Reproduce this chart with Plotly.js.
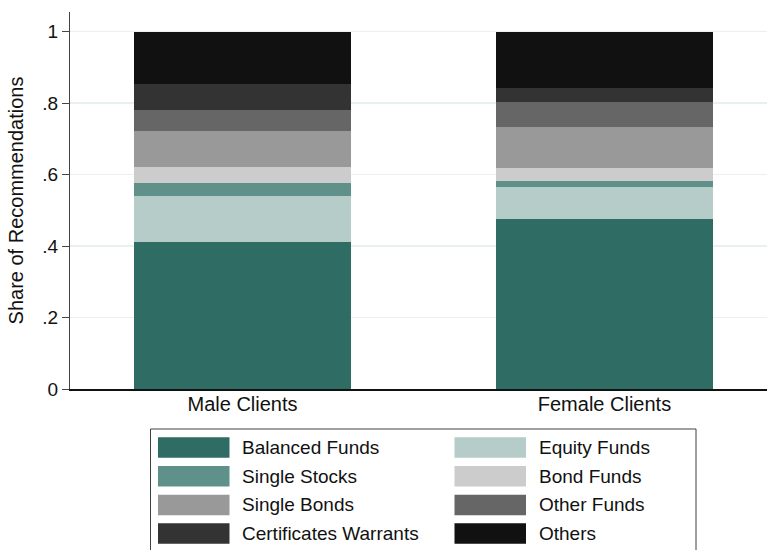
<!DOCTYPE html>
<html>
<head>
<meta charset="utf-8">
<script src="https://cdn.plot.ly/plotly-3.0.1.min.js"></script>
<style>html,body{margin:0;padding:0;background:#fff;}#chart{width:767px;height:550px;}</style>
</head>
<body>
<div id="chart"></div>
<script>
// ---- data ----
const categories = ['Male Clients', 'Female Clients'];
const seriesNames = ['Balanced Funds', 'Equity Funds', 'Single Stocks', 'Bond Funds',
                     'Single Bonds', 'Other Funds', 'Certificates Warrants', 'Others'];
const balancedFunds = [0.411, 0.477];
const equityFunds = [0.129, 0.087];
const singleStocks = [0.036, 0.017];
const bondFunds = [0.044, 0.037];
const singleBonds = [0.101, 0.115];
const otherFunds = [0.059, 0.070];
const certificatesWarrants = [0.073, 0.039];
const others = [0.147, 0.158];
const yTickVals = [0, 0.2, 0.4, 0.6, 0.8, 1];
const yTickText = ['0', '.2', '.4', '.6', '.8', '1'];
const seriesColors = ['#2e6c64', '#b5ccc9', '#5f918a', '#cccccc', '#999999', '#666666', '#333333', '#111111'];

const seriesValues = [balancedFunds, equityFunds, singleStocks, bondFunds,
                      singleBonds, otherFunds, certificatesWarrants, others];

const FONT = 'Liberation Sans, Arial, sans-serif';
const W = 767, H = 550;
const M = {l: 70, r: 0, t: 12, b: 161};
const plotW = W - M.l - M.r, plotH = H - M.t - M.b;

const traces = seriesNames.map((name, i) => ({
  type: 'bar',
  name: name,
  x: categories,
  y: seriesValues[i],
  width: 0.6,
  marker: {color: seriesColors[i], line: {width: 0}},
  hoverinfo: 'name+y',
  showlegend: false
}));

// ---- legend drawn as a 2-column box below the plot ----
const px2x = p => (p - M.l) / plotW;
const py2y = p => (H - M.b - p) / plotH;
const legend = {left: 150.5, right: 696, top: 429, bottom: 560,
                swatchX: [158, 454.5], textX: [240, 537], firstRowMid: 447.5, rowPitch: 28.7,
                swatchW: 71.5, swatchH: 20.5};
const shapes = [{
  type: 'rect', xref: 'paper', yref: 'paper',
  x0: px2x(legend.left), x1: px2x(legend.right),
  y0: py2y(legend.bottom), y1: py2y(legend.top),
  line: {color: '#404040', width: 1}, fillcolor: 'rgba(0,0,0,0)', layer: 'above'
}];
const annotations = [];
seriesNames.forEach((name, i) => {
  const col = i % 2, row = Math.floor(i / 2);
  const mid = legend.firstRowMid + row * legend.rowPitch;
  shapes.push({
    type: 'rect', xref: 'paper', yref: 'paper',
    x0: px2x(legend.swatchX[col]), x1: px2x(legend.swatchX[col] + legend.swatchW),
    y0: py2y(mid + legend.swatchH / 2), y1: py2y(mid - legend.swatchH / 2),
    line: {width: 0}, fillcolor: seriesColors[i], layer: 'above'
  });
  annotations.push({
    xref: 'paper', yref: 'paper', x: px2x(legend.textX[col]), y: py2y(mid),
    xanchor: 'left', yanchor: 'middle', showarrow: false, text: name,
    font: {family: FONT, size: 19, color: '#111'}
  });
});

const layout = {
  width: W, height: H,
  margin: {l: M.l, r: M.r, t: M.t, b: M.b, autoexpand: false},
  paper_bgcolor: '#ffffff', plot_bgcolor: '#ffffff',
  barmode: 'stack',
  bargap: 0,
  showlegend: false,
  font: {family: FONT, size: 19, color: '#111'},
  xaxis: {
    type: 'category',
    range: [-0.4765, 1.449],
    showgrid: false, zeroline: false,
    showline: true, linecolor: '#111', linewidth: 1.5,
    ticks: '', ticklabelstandoff: -4,
    tickfont: {family: FONT, size: 20, color: '#111'},
    automargin: false
  },
  yaxis: {
    range: [0, 1.055],
    tickvals: yTickVals, ticktext: yTickText,
    ticks: 'outside', ticklen: 7, tickwidth: 1, tickcolor: '#444',
    tickfont: {family: FONT, size: 19, color: '#111'},
    showline: true, linecolor: '#444', linewidth: 1,
    showgrid: true, gridcolor: '#e8f0f1', gridwidth: 1.5,
    zeroline: false,
    title: {text: 'Share of Recommendations', font: {family: FONT, size: 20, color: '#111'}, standoff: 13},
    automargin: false
  },
  shapes: shapes,
  annotations: annotations
};

Plotly.newPlot('chart', traces, layout, {displayModeBar: false, staticPlot: true});
</script>
</body>
</html>
